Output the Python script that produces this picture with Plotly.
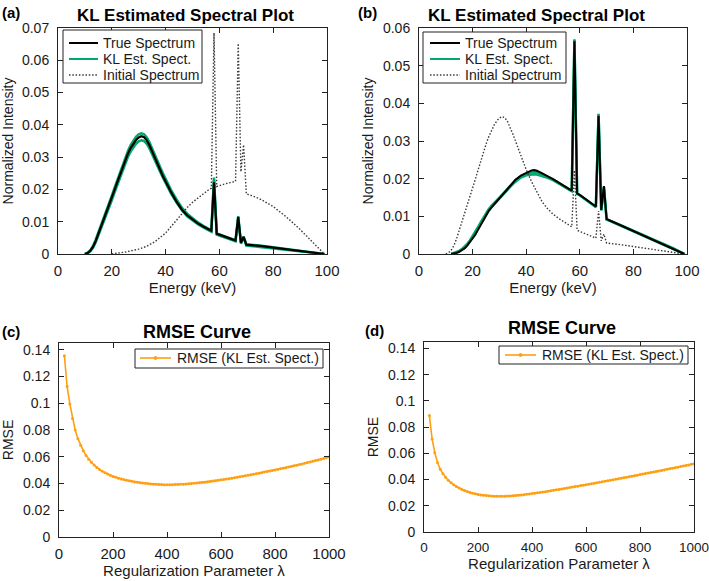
import plotly.graph_objects as go

W, H = 709, 581

# ---------------- data ----------------
# Spectrum A (true spectrum of panel a == initial spectrum of panel b)
energy_a = [10, 11, 12, 13, 14, 15, 16, 17, 18, 19, 20, 21, 22, 23, 24, 25, 26, 27, 28, 29,
            30, 31, 32, 33, 34, 35, 36, 37, 38, 39, 40, 42, 44, 46, 48, 50, 52, 54, 56, 57,
            58, 59, 60, 62, 64, 65, 66, 67, 68, 69, 70, 75, 80, 85, 90, 95, 98, 99]
spec_a_true = [0.0000, 0.0003, 0.0010, 0.0022, 0.0040, 0.0062, 0.0082, 0.0104, 0.0127, 0.0150,
               0.0174, 0.0198, 0.0222, 0.0246, 0.0270, 0.0291, 0.0311, 0.0328, 0.0342, 0.0353,
               0.0361, 0.0365, 0.0362, 0.0352, 0.0337, 0.0319, 0.0300, 0.0280, 0.0260, 0.0241,
               0.0224, 0.0192, 0.0163, 0.0138, 0.0120, 0.0106, 0.0095, 0.0085, 0.0076, 0.0072,
               0.0222, 0.0063, 0.0060, 0.0054, 0.0048, 0.0045, 0.0042, 0.0114, 0.0035, 0.0053,
               0.0029, 0.0025, 0.0020, 0.0015, 0.0010, 0.0005, 0.0001, 0.0000]
spec_a_est_hi = [0.0000, 0.0004, 0.0012, 0.0025, 0.0044, 0.0066, 0.0087, 0.0110, 0.0133, 0.0157,
                 0.0181, 0.0205, 0.0229, 0.0253, 0.0277, 0.0299, 0.0319, 0.0337, 0.0352, 0.0363,
                 0.0371, 0.0374, 0.0371, 0.0361, 0.0346, 0.0328, 0.0309, 0.0289, 0.0269, 0.0250,
                 0.0232, 0.0199, 0.0170, 0.0144, 0.0125, 0.0110, 0.0098, 0.0087, 0.0078, 0.0073,
                 0.0237, 0.0064, 0.0061, 0.0055, 0.0049, 0.0046, 0.0043, 0.0117, 0.0036, 0.0054,
                 0.0030, 0.0026, 0.0021, 0.0016, 0.0011, 0.0005, 0.0001, 0.0000]
spec_a_est_lo = [0.0000, 0.0002, 0.0008, 0.0019, 0.0036, 0.0057, 0.0077, 0.0098, 0.0120, 0.0143,
                 0.0166, 0.0190, 0.0213, 0.0237, 0.0261, 0.0282, 0.0301, 0.0317, 0.0330, 0.0341,
                 0.0349, 0.0352, 0.0350, 0.0341, 0.0327, 0.0310, 0.0292, 0.0273, 0.0254, 0.0236,
                 0.0219, 0.0188, 0.0160, 0.0136, 0.0117, 0.0103, 0.0092, 0.0082, 0.0073, 0.0069,
                 0.0230, 0.0060, 0.0057, 0.0051, 0.0045, 0.0042, 0.0039, 0.0113, 0.0032, 0.0051,
                 0.0026, 0.0022, 0.0018, 0.0013, 0.0008, 0.0004, 0.0001, 0.0000]

# Initial spectrum of panel a
energy_a_init = [20, 25, 30, 33, 36, 40, 44, 46, 48, 50, 52, 54, 56, 57, 58, 59, 60, 62, 64,
                 65, 66, 67, 68, 69, 70, 72, 75, 80, 85, 90, 95, 98, 99]
spec_a_init = [0.0000, 0.0006, 0.0015, 0.0024, 0.0038, 0.0065, 0.0104, 0.0125, 0.0144, 0.0160,
               0.0174, 0.0187, 0.0199, 0.0204, 0.0685, 0.0209, 0.0212, 0.0217, 0.0221, 0.0223,
               0.0225, 0.0652, 0.0255, 0.0338, 0.0186, 0.0181, 0.0171, 0.0147, 0.0114, 0.0076,
               0.0035, 0.0008, 0.0000]

# Spectrum B (true spectrum of panel b)
energy_b = [12, 13, 14, 15, 16, 17, 18, 19, 20, 21, 22, 23, 24, 25, 26, 27, 28, 29, 30, 32,
            34, 36, 38, 40, 42, 43, 44, 46, 48, 50, 52, 54, 56, 57, 58, 59, 60, 62, 64, 65,
            66, 67, 68, 69, 70, 75, 80, 85, 90, 95, 99]
spec_b_true = [0.0000, 0.0001, 0.0003, 0.0006, 0.0010, 0.0015, 0.0022, 0.0031, 0.0042, 0.0051,
               0.0064, 0.0077, 0.0092, 0.0104, 0.0114, 0.0123, 0.0131, 0.0139, 0.0147, 0.0164,
               0.0181, 0.0197, 0.0208, 0.0216, 0.0222, 0.0223, 0.0221, 0.0214, 0.0207, 0.0199,
               0.0190, 0.0181, 0.0172, 0.0168, 0.0565, 0.0161, 0.0157, 0.0147, 0.0136, 0.0131,
               0.0126, 0.0366, 0.0117, 0.0180, 0.0093, 0.0077, 0.0061, 0.0045, 0.0029, 0.0014,
               0.0000]
spec_b_est_hi = [0.0000, 0.0002, 0.0004, 0.0008, 0.0013, 0.0019, 0.0027, 0.0036, 0.0047, 0.0058,
                 0.0071, 0.0084, 0.0097, 0.0109, 0.0119, 0.0128, 0.0136, 0.0143, 0.0150, 0.0165,
                 0.0181, 0.0196, 0.0206, 0.0213, 0.0217, 0.0218, 0.0217, 0.0211, 0.0205, 0.0198,
                 0.0189, 0.0180, 0.0171, 0.0167, 0.0570, 0.0160, 0.0156, 0.0146, 0.0135, 0.0130,
                 0.0125, 0.0372, 0.0116, 0.0177, 0.0092, 0.0077, 0.0062, 0.0046, 0.0030, 0.0015,
                 0.0000]
spec_b_est_lo = [0.0000, 0.0001, 0.0003, 0.0007, 0.0011, 0.0017, 0.0024, 0.0033, 0.0044, 0.0054,
                 0.0067, 0.0080, 0.0094, 0.0106, 0.0116, 0.0124, 0.0132, 0.0140, 0.0147, 0.0162,
                 0.0178, 0.0192, 0.0203, 0.0209, 0.0212, 0.0212, 0.0211, 0.0207, 0.0202, 0.0196,
                 0.0188, 0.0180, 0.0171, 0.0167, 0.0568, 0.0160, 0.0156, 0.0146, 0.0135, 0.0130,
                 0.0125, 0.0370, 0.0116, 0.0178, 0.0092, 0.0076, 0.0060, 0.0044, 0.0028, 0.0013,
                 0.0000]

# RMSE curves
lam = list(range(20, 1001, 10))
rmse_c = [0.1355, 0.1125, 0.0995, 0.0885, 0.0800, 0.0735, 0.0685, 0.0645, 0.0610, 0.0582,
          0.0558, 0.0538, 0.0520, 0.0505, 0.0492, 0.0480, 0.0470, 0.0461, 0.0453, 0.0446,
          0.0440, 0.0434, 0.0429, 0.0424, 0.0420, 0.0416, 0.0412, 0.0409, 0.0406, 0.0403,
          0.0401, 0.0399, 0.0397, 0.0395, 0.0394, 0.0393, 0.0392, 0.0391, 0.0391, 0.0391,
          0.0391, 0.0392, 0.0393, 0.0394, 0.0395, 0.0396, 0.0398, 0.0400, 0.0402, 0.0404,
          0.0406, 0.0408, 0.0410, 0.0412, 0.0415, 0.0418, 0.0421, 0.0424, 0.0427, 0.0430,
          0.0433, 0.0436, 0.0440, 0.0443, 0.0447, 0.0450, 0.0454, 0.0457, 0.0461, 0.0465,
          0.0469, 0.0473, 0.0477, 0.0481, 0.0485, 0.0489, 0.0493, 0.0497, 0.0501, 0.0505,
          0.0510, 0.0514, 0.0518, 0.0523, 0.0527, 0.0532, 0.0536, 0.0541, 0.0546, 0.0551,
          0.0556, 0.0561, 0.0566, 0.0571, 0.0576, 0.0581, 0.0586, 0.0592, 0.0598]
rmse_d = [0.0890, 0.0710, 0.0605, 0.0530, 0.0478, 0.0445, 0.0418, 0.0395, 0.0376, 0.0360,
          0.0347, 0.0335, 0.0325, 0.0316, 0.0309, 0.0302, 0.0296, 0.0291, 0.0287, 0.0283,
          0.0280, 0.0278, 0.0276, 0.0274, 0.0273, 0.0272, 0.0272, 0.0272, 0.0273, 0.0274,
          0.0275, 0.0277, 0.0279, 0.0281, 0.0283, 0.0285, 0.0288, 0.0290, 0.0293, 0.0296,
          0.0299, 0.0302, 0.0305, 0.0308, 0.0311, 0.0315, 0.0318, 0.0322, 0.0325, 0.0329,
          0.0332, 0.0336, 0.0339, 0.0343, 0.0347, 0.0350, 0.0354, 0.0357, 0.0361, 0.0365,
          0.0368, 0.0372, 0.0376, 0.0380, 0.0383, 0.0387, 0.0391, 0.0395, 0.0399, 0.0403,
          0.0407, 0.0411, 0.0414, 0.0418, 0.0422, 0.0426, 0.0430, 0.0434, 0.0438, 0.0442,
          0.0446, 0.0450, 0.0454, 0.0458, 0.0462, 0.0466, 0.0470, 0.0474, 0.0478, 0.0483,
          0.0487, 0.0491, 0.0495, 0.0500, 0.0504, 0.0508, 0.0512, 0.0517, 0.0521]

energy_ticks = [0, 20, 40, 60, 80, 100]
int_ticks_a = [0, 0.01, 0.02, 0.03, 0.04, 0.05, 0.06, 0.07]
int_labels_a = ["0", "0.01", "0.02", "0.03", "0.04", "0.05", "0.06", "0.07"]
int_ticks_b = [0, 0.01, 0.02, 0.03, 0.04, 0.05, 0.06]
int_labels_b = ["0", "0.01", "0.02", "0.03", "0.04", "0.05", "0.06"]
lam_ticks = [0, 200, 400, 600, 800, 1000]
rmse_ticks = [0, 0.02, 0.04, 0.06, 0.08, 0.1, 0.12, 0.14]
rmse_labels = ["0", "0.02", "0.04", "0.06", "0.08", "0.1", "0.12", "0.14"]

spec_legend = ["True Spectrum", "KL Est. Spect.", "Initial Spectrum"]
rmse_legend = "RMSE (KL Est. Spect.)"

# ---------------- styles ----------------
BLACK = "#000000"
GREEN = "#00a86b"
DOT = "#3a3a3a"
DOTDASH = "1.5px,1.8px"
ORANGE = "#ff9f12"
FONT = "Liberation Sans, Arial, sans-serif"
TXT = "#1a1a1a"

def px_x(a, b):
    return [a / W, b / W]

def px_y(top, bottom):
    return [1 - bottom / H, 1 - top / H]

fig = go.Figure()

def line(x, y, xa, ya, color, width, dash="solid", mode="lines"):
    fig.add_trace(go.Scatter(x=x, y=y, mode=mode, line=dict(color=color, width=width, dash=dash),
                             marker=dict(size=3, color=color), xaxis=xa, yaxis=ya,
                             showlegend=False, hoverinfo="skip"))

# Panel a
line(energy_a, spec_a_est_hi, "x", "y", GREEN, 2.5)
line(energy_a, spec_a_est_lo, "x", "y", GREEN, 2.5)
line(energy_a_init, spec_a_init, "x", "y", DOT, 1.4, DOTDASH)
line(energy_a, spec_a_true, "x", "y", BLACK, 2.2)
# Panel b
line(energy_b, spec_b_est_hi, "x2", "y2", GREEN, 2.5)
line(energy_b, spec_b_est_lo, "x2", "y2", GREEN, 2.5)
line(energy_a, spec_a_true, "x2", "y2", DOT, 1.4, DOTDASH)
line(energy_b, spec_b_true, "x2", "y2", BLACK, 2.0)
# Panel c, d
line(lam, rmse_c, "x3", "y3", ORANGE, 1.6, mode="lines+markers")
line(lam, rmse_d, "x4", "y4", ORANGE, 1.6, mode="lines+markers")

def axis(domain, rng, tickvals, ticktext, title, anchor, standoff, is_x, tsize=None):
    if tsize is None:
        tsize = 15 if is_x else 14
    return dict(domain=domain, range=rng, tickvals=tickvals, ticktext=ticktext,
                showline=True, linecolor="#222", linewidth=1, mirror="ticks",
                ticks="inside", ticklen=5, tickcolor="#222", showgrid=False, zeroline=False,
                tickfont=dict(family=FONT, size=tsize, color=TXT), anchor=anchor,
                title=dict(text=title, font=dict(family=FONT, size=15 if is_x else 14, color=TXT),
                           standoff=standoff),
                automargin=False, ticklabelstandoff=3 if is_x else 5,
                ticklabeloverflow="allow")

layout = dict(
    width=W, height=H, margin=dict(l=0, r=0, t=0, b=0),
    paper_bgcolor="white", plot_bgcolor="white", showlegend=False,
    font=dict(family=FONT, size=14, color=TXT),
    xaxis=axis(px_x(58, 327), [0, 100], energy_ticks, [str(v) for v in energy_ticks],
               "Energy (keV)", "y", 4, True),
    yaxis=axis(px_y(28, 254), [0, 0.07], int_ticks_a, int_labels_a,
               "Normalized Intensity", "x", 6, False),
    xaxis2=axis(px_x(419, 687), [0, 100], energy_ticks, [str(v) for v in energy_ticks],
                "Energy (keV)", "y2", 4, True),
    yaxis2=axis(px_y(28, 254), [0, 0.06], int_ticks_b, int_labels_b,
                "Normalized Intensity", "x2", 6, False),
    xaxis3=axis(px_x(59, 329), [0, 1000], lam_ticks, [str(v) for v in lam_ticks],
                "Regularization Parameter λ", "y3", 4, True),
    yaxis3=axis(px_y(343, 537), [0, 0.145], rmse_ticks, rmse_labels, "RMSE", "x3", 6, False),
    xaxis4=axis(px_x(424, 694), [0, 1000], lam_ticks, [str(v) for v in lam_ticks],
                "Regularization Parameter λ", "y4", 4, True, tsize=13.5),
    yaxis4=axis(px_y(342, 532), [0, 0.145], rmse_ticks, rmse_labels, "RMSE", "x4", 6, False),
)
fig.update_layout(**layout)

def ann(text, x, y, size=18, bold=True, anchor="center"):
    fig.add_annotation(text=f"<b>{text}</b>" if bold else text, x=x / W, y=1 - y / H,
                       xref="paper", yref="paper", showarrow=False,
                       font=dict(family=FONT, size=size, color="#000"),
                       xanchor=anchor, yanchor="middle")

ann("KL Estimated Spectral Plot", 185, 15, 17)
ann("KL Estimated Spectral Plot", 536, 15, 17)
ann("RMSE Curve", 197, 332, 18)
ann("RMSE Curve", 562, 328, 18)
ann("(a)", 0, 12, 15, anchor="left")
ann("(b)", 356, 12, 15, anchor="left")
ann("(c)", 0, 331, 15, anchor="left")
ann("(d)", 363, 330, 15, anchor="left")

# ---------------- legends (drawn as boxes in paper space) ----------------
def rect(x0, y0, x1, y1):
    fig.add_shape(type="rect", xref="paper", yref="paper", x0=x0 / W, x1=x1 / W,
                  y0=1 - y1 / H, y1=1 - y0 / H, line=dict(color="#222", width=1),
                  fillcolor="white", layer="above")

def sample(x0, x1, y, color, width, dash="solid"):
    fig.add_shape(type="line", xref="paper", yref="paper", x0=x0 / W, x1=x1 / W,
                  y0=1 - y / H, y1=1 - y / H, line=dict(color=color, width=width, dash=dash),
                  layer="above")

def label(text, x, y):
    fig.add_annotation(text=text, x=x / W, y=1 - y / H, xref="paper", yref="paper",
                       showarrow=False, xanchor="left", yanchor="middle",
                       font=dict(family=FONT, size=14, color=TXT))

styles = [(BLACK, 2, "solid"), (GREEN, 2, "solid"), (DOT, 1.4, DOTDASH)]
for (bx0, by0, bx1, by1, lx0, lx1, tx, rows) in [
        (63, 30, 202, 83, 69, 98, 101, [43, 59, 75]),
        (423, 32, 566, 83, 430, 460, 463, [43, 59, 75])]:
    rect(bx0, by0, bx1, by1)
    for (c, w, d), name, ry in zip(styles, spec_legend, rows):
        sample(lx0, lx1, ry, c, w, d)
        label(name, tx, ry)

for (bx0, by0, bx1, by1, lx0, lx1, tx, ry) in [
        (135, 349, 323, 368, 140, 171, 175, 358),
        (499, 346, 688, 364, 505, 536, 540, 355)]:
    rect(bx0, by0, bx1, by1)
    sample(lx0, lx1, ry, ORANGE, 1.6)
    fig.add_shape(type="circle", xref="paper", yref="paper",
                  x0=((lx0 + lx1) / 2 - 1.5) / W, x1=((lx0 + lx1) / 2 + 1.5) / W,
                  y0=1 - (ry + 1.5) / H, y1=1 - (ry - 1.5) / H,
                  line=dict(color=ORANGE, width=1), fillcolor=ORANGE, layer="above")
    label(rmse_legend, tx, ry)

fig.write_html("out.html", config={"displayModeBar": False},
               post_script="document.body.style.margin='0';document.body.style.overflow='hidden';")
